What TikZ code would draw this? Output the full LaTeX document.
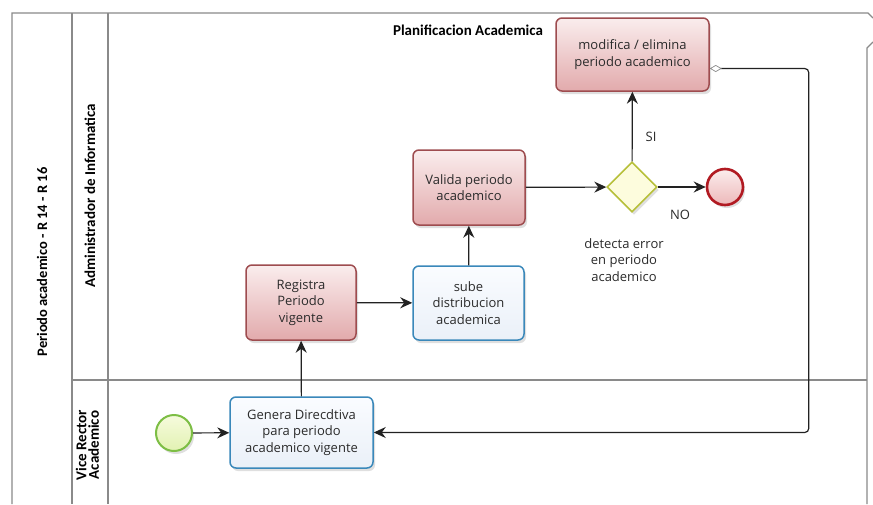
\documentclass[tikz,border=0pt]{standalone}
\usepackage{fontspec}
\setmainfont{Open Sans}
\newfontfamily\lanefont{Carlito}
\usetikzlibrary{shapes.geometric,arrows.meta,shadows,calc}

\definecolor{framegray}{HTML}{8A8A8A}
\definecolor{flowgray}{HTML}{222222}
\definecolor{redline}{HTML}{9E4C4F}
\definecolor{redtop}{HTML}{FAEDED}
\definecolor{redbot}{HTML}{E2AAAC}
\definecolor{blueline}{HTML}{3A88BA}
\definecolor{bluetop}{HTML}{FAFCFF}
\definecolor{bluebot}{HTML}{EAF0F8}
\definecolor{gateline}{HTML}{B7C03A}
\definecolor{gatefill}{HTML}{FDFCDD}
\definecolor{startline}{HTML}{7DBE45}
\definecolor{starttop}{HTML}{F6FBDD}
\definecolor{startbot}{HTML}{E2F2B2}
\definecolor{endline}{HTML}{B11A22}
\definecolor{endtop}{HTML}{FBEDED}
\definecolor{endbot}{HTML}{EDB8B9}
\definecolor{textgray}{HTML}{2B2B2B}

\tikzset{
  frameline/.style={draw=framegray, line width=1.1pt},
  boxshadow/.style={drop shadow={opacity=0.25, shadow xshift=2pt, shadow yshift=-3pt}},
  tasktext/.style={align=center, font=\fontsize{13}{16.7}\selectfont, text=textgray, inner sep=2pt},
  redtask/.style={rectangle, rounded corners=6pt, draw=redline, line width=1.5pt,
    top color=redtop, bottom color=redbot, boxshadow, tasktext},
  bluetask/.style={rectangle, rounded corners=6pt, draw=blueline, line width=1.5pt,
    top color=bluetop, bottom color=bluebot, boxshadow, tasktext},
  gateway/.style={diamond, draw=gateline, fill=gatefill, line width=1.6pt,
    minimum width=50pt, minimum height=50pt, inner sep=0pt, boxshadow},
  startev/.style={circle, draw=startline, line width=2pt, top color=starttop,
    bottom color=startbot, minimum size=36pt, inner sep=0pt, boxshadow},
  endev/.style={circle, draw=endline, line width=2.6pt, top color=endtop,
    bottom color=endbot, minimum size=36pt, inner sep=0pt, boxshadow},
  arrowtip/.tip={Stealth[length=12pt,width=11pt,inset=4pt]},
  flow/.style={draw=flowgray, line width=1.2pt, -arrowtip},
  note/.style={tasktext},
  lanelabel/.style={font=\lanefont\bfseries\fontsize{15}{12.5}\selectfont, rotate=90, align=center, text=black},
}

\begin{document}
\begin{tikzpicture}[x=1pt, y=-1pt]
\useasboundingbox (0,0) rectangle (873,504);
\fill[white] (0,0) rectangle (873,504);

% pool and lanes
\draw[frameline] (12,504) -- (12,13) -- (868,13) -- (873,18);
\draw[frameline] (873,42) -- (867,48) -- (867,504);
\draw[frameline] (72,13) -- (72,504);
\draw[frameline] (108,13) -- (108,504);
\draw[frameline] (72,380) -- (867,380);

\node[lanelabel, font=\lanefont\bfseries\fontsize{14.5}{14}\selectfont] (pool) at (42,262) {Periodo academico - R 14 - R 16};
\node[lanelabel] (laneA) at (90,196) {Administrador de Informatica};
\node[lanelabel] (laneB) at (87.5,445) {Vice Rector\\Academico};

\node[font=\lanefont\bfseries\fontsize{15}{16}\selectfont] (title) at (468,30) {Planificacion Academica};

% flow objects
\node[startev] (start) at (174,433) {};
\node[bluetask, minimum width=143pt, minimum height=71pt] (genera) at (301.5,432.5)
  {Genera Direcdtiva\\para periodo\\academico vigente};
\node[redtask, minimum width=110pt, minimum height=75pt] (registra) at (301,302.5)
  {Registra\\Periodo\\vigente};
\node[bluetask, minimum width=111pt, minimum height=74pt] (sube) at (468.5,303)
  {sube\\distribucion\\academica};
\node[redtask, minimum width=112pt, minimum height=75pt] (valida) at (469,187.5)
  {Valida periodo\\academico};
\node[gateway] (gw) at (632,187) {};
\node[endev] (end) at (725,187) {};
\node[redtask, minimum width=153pt, minimum height=73pt] (modifica) at (632.5,54.5)
  {modifica / elimina\\periodo academico};

\node[note] (si) at (651,137) {SI};
\node[note] (no) at (680,215) {NO};
\node[note] (cond) at (624,260) {detecta error\\en periodo\\academico};

% sequence flows
\draw[flow] (start) -- (genera);
\draw[flow] (genera) -- (registra);
\draw[flow] (registra) -- (sube);
\draw[flow] (sube) -- (valida);
\draw[flow] (valida) -- (gw);
\draw[flow] (gw) -- (end);
\draw[flow] (gw) -- (modifica);
\draw[flow, rounded corners=4pt, {Diamond[open, length=12pt, width=7pt, line width=0.7pt, color=framegray]}-arrowtip]
  ([yshift=-14pt]modifica.east) -- ++(99,0) |- (genera.east);
\end{tikzpicture}
\end{document}
